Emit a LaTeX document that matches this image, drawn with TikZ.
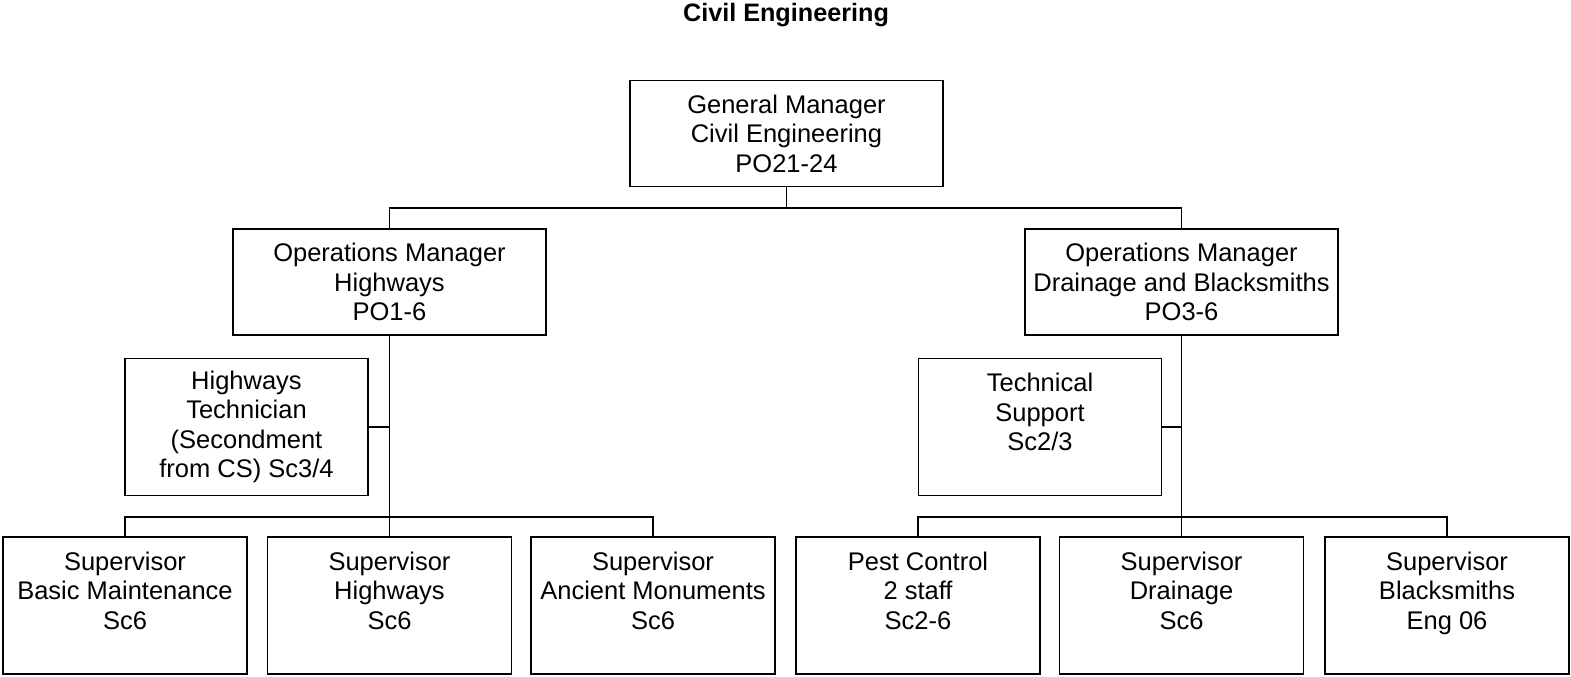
\documentclass[tikz,border=0pt]{standalone}
\usepackage{fontspec}
\setmainfont{Liberation Sans}
\begin{document}
\begin{tikzpicture}[x=0.5pt,y=-0.5pt,line width=0.9pt,
    box/.style={draw, line width=0.9pt, inner sep=0pt, align=center,
      font=\fontsize{12.75pt}{14.75pt}\selectfont},
    wide/.style={box, minimum width=156.5pt, minimum height=53pt},
    side/.style={box, minimum width=121.5pt, minimum height=68.5pt},
    low/.style={box, minimum width=122pt, minimum height=68.5pt}]
                \useasboundingbox (0,0) rectangle (1571,676);
                \node[font=\bfseries\fontsize{12.6pt}{14pt}\selectfont] (title) at (786,15) {Civil Engineering};
                % managers
                \node[wide] (gm) at (786.5,133.5) {General Manager\\Civil Engineering\\PO21-24};
                \node[wide] (opsH) at (389.5,282) {Operations Manager\\Highways\\PO1-6};
                \node[wide] (opsD) at (1181.5,282) {Operations Manager\\Drainage and Blacksmiths\\PO3-6};
                % side boxes
                \node[side] (tech) at (246.5,427) {Highways\\Technician\\(Secondment\\from CS) Sc3/4};
                \node[side] (techS) at (1040,427) {Technical\\Support\\Sc2/3\\\vphantom{S}};
                % supervisors
                \node[low] (supB) at (125,605.5) {Supervisor\\Basic Maintenance\\Sc6\\\vphantom{S}};
                \node[low] (supH) at (389.5,605.5) {Supervisor\\Highways\\Sc6\\\vphantom{S}};
                \node[low] (supA) at (653,605.5) {Supervisor\\Ancient Monuments\\Sc6\\\vphantom{S}};
                \node[low] (pest) at (918,605.5) {Pest Control\\2 staff\\Sc2-6\\\vphantom{S}};
                \node[low] (supD) at (1181.5,605.5) {Supervisor\\Drainage\\Sc6\\\vphantom{S}};
                \node[low] (supS) at (1447,605.5) {Supervisor\\Blacksmiths\\Eng 06\\\vphantom{S}};
                % connectors
                \coordinate (topbar) at (0,208);
                \coordinate (lowbar) at (0,517);
                \draw (gm.south) -- (gm.south |- topbar);
                \draw (opsH.north) |- (topbar -| gm.south) -| (opsD.north);
                \draw (opsH.south) -- (supH.north);
                \draw (opsD.south) -- (supD.north);
                \draw (tech.east) -- (tech.east -| opsH.south);
                \draw (techS.east) -- (techS.east -| opsD.south);
                \draw (supB.north) |- (lowbar -| supH.north) -| (supA.north);
                \draw (pest.north) |- (lowbar -| supD.north) -| (supS.north);
            \end{tikzpicture}
\end{document}
